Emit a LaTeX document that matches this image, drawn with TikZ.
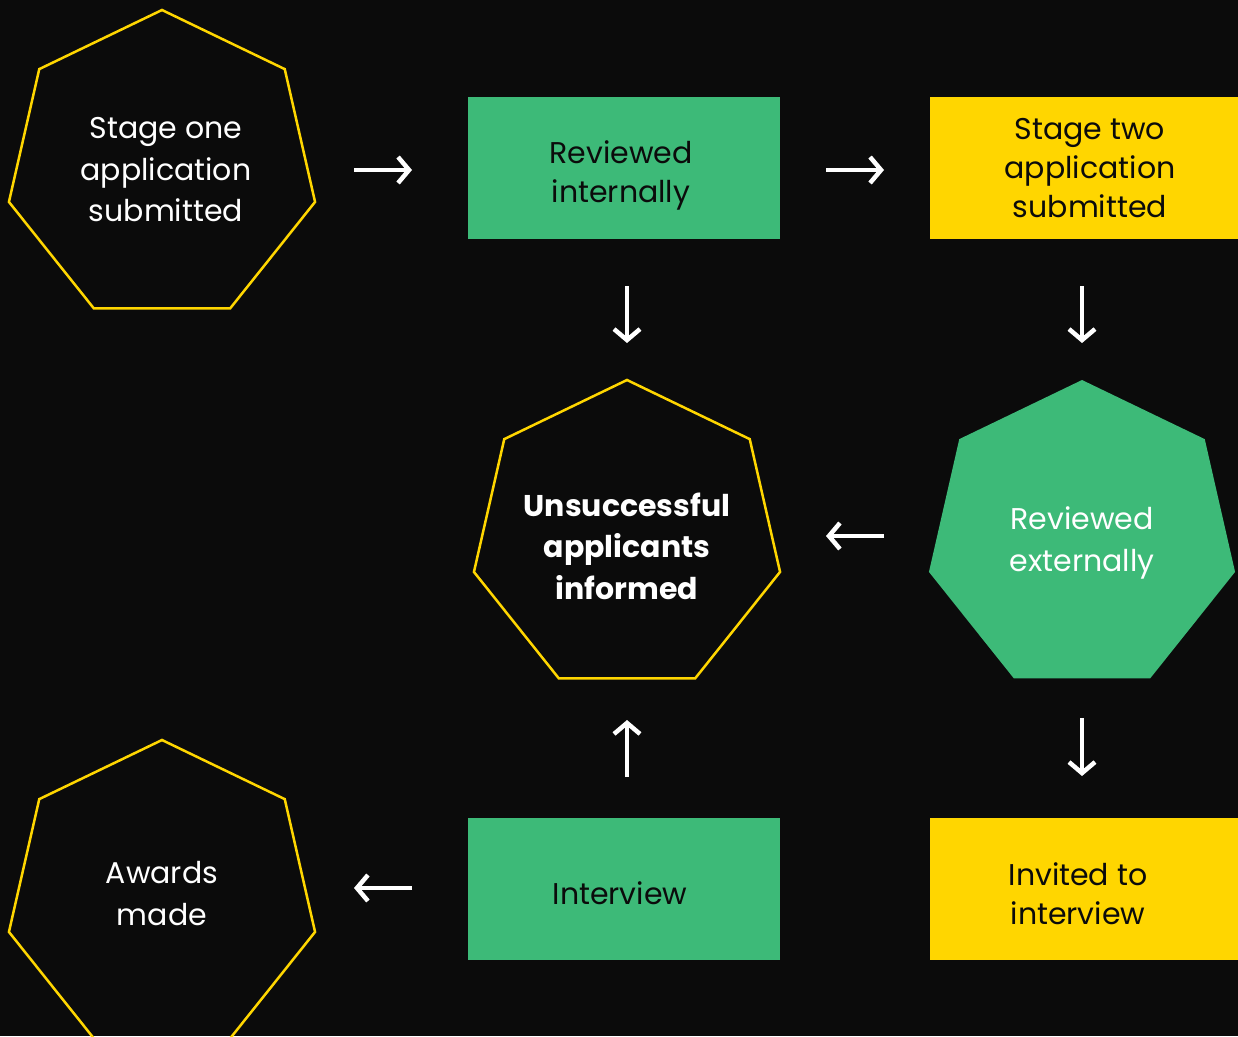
\documentclass[tikz,border=0pt]{standalone}
\usepackage{fontspec}
\setmainfont{Poppins}
\usetikzlibrary{shapes.geometric,arrows.meta}
\definecolor{bg}{HTML}{0B0B0B}
\definecolor{grn}{HTML}{3DBA78}
\definecolor{ylw}{HTML}{FFD600}
\tikzset{
  hept/.style={regular polygon, regular polygon sides=7, minimum size=314pt, inner sep=0pt, outer sep=0pt},
  heptline/.style={hept, draw=ylw, line width=2.5pt},
  heptfill/.style={hept, fill=grn},
  htext/.style={align=center, text=white, inner sep=0pt, font=\fontsize{30}{41.5}\selectfont},
  boxg/.style={rectangle, fill=grn, minimum height=142pt, inner sep=0pt, outer sep=0pt},
  boxy/.style={boxg, fill=ylw},
  btext/.style={align=center, text=bg, inner sep=0pt, font=\fontsize{30}{39}\selectfont},
  arr/.style={draw=white, line width=4.5pt, -{Straight Barb[length=11pt,width=26pt]}}
}
\begin{document}
\begin{tikzpicture}[x=1pt,y=-1pt]
\fill[bg] (0,0) rectangle (1238,1036);
\clip (0,0) rectangle (1238,1036);
\useasboundingbox (0,0) rectangle (1238,1036);
\node[heptline] (s1) at (162,167) {};
\node[boxg, minimum width=312pt] (ri) at (624,168) {};
\node[boxy, minimum width=308pt] (st) at (1084,168) {};
\node[heptline] (un) at (627,537) {};
\node[heptfill] (re) at (1082,537) {};
\node[boxg, minimum width=312pt] (iv) at (624,889) {};
\node[boxy, minimum width=308pt] (in) at (1084,889) {};
\node[heptline] (aw) at (162,897) {};
% texts
\node[htext] (s1t) at (166,170) {Stage one\\application\\submitted};
\node[btext] (rit) at (621,175.5) {Reviewed\\internally};
\node[btext] (stt) at (1090,168) {Stage two\\application\\submitted};
\node[htext, font=\fontsize{30}{41.5}\selectfont\bfseries] (unt) at (627,546) {Unsuccessful\\applicants\\informed};
\node[htext] (ret) at (1082,543) {Reviewed\\externally};
\node[btext] (ivt) at (620,893) {Interview};
\node[btext] (int) at (1078,894) {Invited to\\interview};
\node[htext] (awt) at (162,893.5) {Awards\\made};
% arrows
\draw[arr] ([xshift=-114pt,yshift=-2pt]ri.west) -- ([xshift=-56pt,yshift=-2pt]ri.west);
\draw[arr] ([xshift=-104pt,yshift=-2pt]st.west) -- ([xshift=-46pt,yshift=-2pt]st.west);
\draw[arr] ([xshift=3pt,yshift=-47pt]ri.south) -- ([xshift=3pt,yshift=-104pt]ri.south);
\draw[arr] ([xshift=-2pt,yshift=-47pt]st.south) -- ([xshift=-2pt,yshift=-104pt]st.south);
\draw[arr] ([xshift=257pt,yshift=1pt]un.center) -- ([xshift=199pt,yshift=1pt]un.center);
\draw[arr] ([xshift=-2pt,yshift=100pt]in.north) -- ([xshift=-2pt,yshift=42pt]in.north);
\draw[arr] ([xshift=3pt,yshift=41pt]iv.north) -- ([xshift=3pt,yshift=98pt]iv.north);
\draw[arr] ([xshift=-56pt,yshift=1pt]iv.west) -- ([xshift=-114pt,yshift=1pt]iv.west);
\end{tikzpicture}
\end{document}
